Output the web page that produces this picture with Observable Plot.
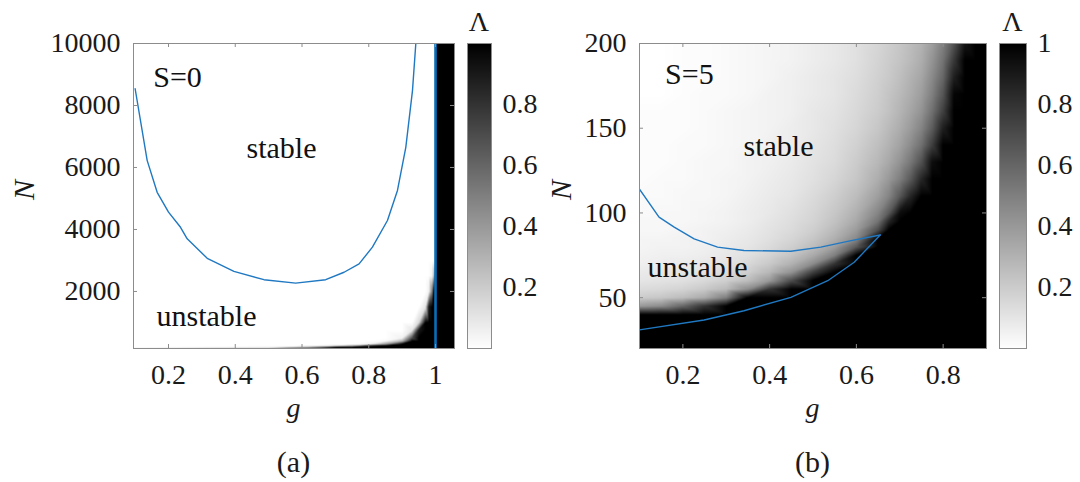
<!DOCTYPE html>
<html><head><meta charset="utf-8">
<script src="https://cdn.jsdelivr.net/npm/d3@7"></script>
<script src="https://cdn.jsdelivr.net/npm/@observablehq/plot@0.6"></script>
<style>
html,body{margin:0;padding:0;background:#fff;}
#root{position:relative;width:1080px;height:482px;overflow:hidden;background:#fff;}
#root > svg{position:absolute;}
#root svg, #root svg text{font-family:"Liberation Serif","Times New Roman",Times,Tinos,"Noto Serif","DejaVu Serif",FreeSerif,serif !important;}
</style></head><body><div id="root"></div>
<script>
// ---------- Panel (a): S=0 ----------
const xTicksA = [0.2, 0.4, 0.6, 0.8, 1];
const yTicksA = [2000, 4000, 6000, 8000, 10000];
const gA = [0.095, 0.5, 0.6, 0.7, 0.75, 0.8, 0.85, 0.9, 0.93, 0.95, 0.97, 0.98, 0.99, 0.995, 0.9995, 1.0005, 1.06];
const NA = [10000, 3000, 2500, 2000, 1500, 1000, 750, 500, 400, 300, 250, 200, 160];
const lambdaA = [
  [0,0,0,0,0,0,0,0,0,0,0,0,0,0,0,1,1],
  [0,0,0,0,0,0,0,0,0,0,0,0,0,0,0.02,1,1],
  [0,0,0,0,0,0,0,0,0,0,0,0,0.05,0.3,0.6,1,1],
  [0,0,0,0,0,0,0,0,0,0,0,0.05,0.5,1,1,1,1],
  [0,0,0,0,0,0,0,0,0,0,0.1,0.9,1,1,1,1,1],
  [0,0,0,0,0,0,0,0,0,0.15,1,1,1,1,1,1,1],
  [0,0,0,0,0,0,0,0,0.1,0.9,1,1,1,1,1,1,1],
  [0,0,0,0,0,0,0,0.05,0.7,1,1,1,1,1,1,1,1],
  [0,0,0,0,0,0,0.02,0.3,1,1,1,1,1,1,1,1,1],
  [0,0,0,0,0,0.05,0.4,1,1,1,1,1,1,1,1,1,1],
  [0,0,0,0.1,0.3,0.8,1,1,1,1,1,1,1,1,1,1,1],
  [0,0.05,0.3,1,1,1,1,1,1,1,1,1,1,1,1,1,1],
  [0.05,0.25,0.8,1,1,1,1,1,1,1,1,1,1,1,1,1,1]
];
const curveAg = [0.1,0.136,0.166,0.2,0.236,0.256,0.316,0.396,0.486,0.581,0.671,0.726,0.771,0.811,0.856,0.886,0.911,0.931,0.941];
const curveAN = [8540,6230,5200,4560,4070,3700,3070,2650,2380,2270,2380,2620,2890,3430,4290,5260,6650,8480,10000];
const boundaryA = [1];

// ---------- Panel (b): S=5 ----------
const xTicksB = [0.2, 0.4, 0.6, 0.8];
const yTicksB = [50, 100, 150, 200];
const gB = [0.1,0.15,0.2,0.25,0.3,0.35,0.4,0.45,0.5,0.55,0.6,0.65,0.675,0.7,0.725,0.75,0.775,0.8,0.825,0.85,0.875,0.9];
const NB = [200,190,180,170,160,150,140,130,120,110,100,95,90,85,80,75,70,65,60,55,50,45,40,35,30,25,20];
const lambdaB = [
  [0,0,.01,.01,.02,.03,.04,.05,.07,.09,.12,.16,.19,.22,.26,.3,.38,.5,.68,.92,1,1],
  [0,0,.01,.01,.02,.03,.04,.05,.07,.09,.12,.17,.2,.23,.27,.32,.42,.55,.78,1,1,1],
  [0,0,.01,.01,.02,.03,.04,.06,.08,.1,.13,.18,.21,.25,.3,.35,.46,.6,.88,1,1,1],
  [0,0,.01,.02,.02,.03,.05,.06,.08,.1,.14,.19,.23,.27,.32,.38,.5,.67,.98,1,1,1],
  [.01,.01,.01,.02,.03,.04,.05,.06,.09,.11,.15,.2,.24,.29,.35,.42,.56,.75,1,1,1,1],
  [.01,.01,.01,.02,.03,.04,.05,.07,.09,.12,.16,.22,.27,.32,.39,.48,.64,.88,1,1,1,1],
  [.01,.01,.02,.02,.03,.04,.06,.07,.1,.13,.18,.25,.3,.36,.45,.56,.76,1,1,1,1,1],
  [.01,.01,.02,.03,.03,.05,.06,.08,.11,.14,.2,.28,.34,.42,.53,.68,.95,1,1,1,1,1],
  [.01,.02,.02,.03,.04,.05,.07,.09,.12,.16,.22,.32,.4,.5,.65,.85,1,1,1,1,1,1],
  [.02,.02,.03,.03,.04,.06,.08,.1,.14,.19,.26,.38,.48,.65,.85,1,1,1,1,1,1,1],
  [.02,.03,.03,.04,.05,.07,.09,.12,.16,.22,.31,.48,.65,.95,1,1,1,1,1,1,1,1],
  [.03,.03,.03,.04,.05,.07,.1,.13,.17,.24,.34,.55,.85,1,1,1,1,1,1,1,1,1],
  [.03,.03,.04,.05,.06,.08,.11,.14,.19,.27,.39,.7,1,1,1,1,1,1,1,1,1,1],
  [.04,.04,.05,.05,.07,.09,.12,.16,.22,.31,.46,1,1,1,1,1,1,1,1,1,1,1],
  [.04,.05,.05,.06,.08,.1,.14,.19,.26,.38,.65,1,1,1,1,1,1,1,1,1,1,1],
  [.05,.06,.06,.07,.09,.12,.17,.23,.33,.5,1,1,1,1,1,1,1,1,1,1,1,1],
  [.06,.07,.08,.09,.11,.15,.21,.3,.45,.8,1,1,1,1,1,1,1,1,1,1,1,1],
  [.08,.09,.1,.11,.14,.19,.28,.42,.75,1,1,1,1,1,1,1,1,1,1,1,1,1],
  [.1,.11,.12,.15,.19,.26,.4,.7,1,1,1,1,1,1,1,1,1,1,1,1,1,1],
  [.14,.15,.17,.21,.27,.45,.8,1,1,1,1,1,1,1,1,1,1,1,1,1,1,1],
  [.2,.22,.26,.33,.5,1,1,1,1,1,1,1,1,1,1,1,1,1,1,1,1,1],
  [.4,.45,.6,.8,1,1,1,1,1,1,1,1,1,1,1,1,1,1,1,1,1,1],
  [1,1,1,1,1,1,1,1,1,1,1,1,1,1,1,1,1,1,1,1,1,1],
  [1,1,1,1,1,1,1,1,1,1,1,1,1,1,1,1,1,1,1,1,1,1],
  [1,1,1,1,1,1,1,1,1,1,1,1,1,1,1,1,1,1,1,1,1,1],
  [1,1,1,1,1,1,1,1,1,1,1,1,1,1,1,1,1,1,1,1,1,1],
  [1,1,1,1,1,1,1,1,1,1,1,1,1,1,1,1,1,1,1,1,1,1]
];
const upperBg = [0.1,0.145,0.18,0.226,0.28,0.341,0.449,0.518,0.588,0.655];
const upperBN = [114,97.5,91.6,84.7,79.8,77.8,77.4,79.8,83.7,87];
const lowerBg = [0.1,0.249,0.341,0.449,0.534,0.595,0.655];
const lowerBN = [31,36.8,42.3,50.2,60,70.9,87];

// ---------- Colorbars ----------
const cbTicksA = [0.2, 0.4, 0.6, 0.8];
const cbTicksB = [0.2, 0.4, 0.6, 0.8, 1];

// ---------- helpers ----------
const FONT = '"Liberation Serif","Times New Roman",Times,Tinos,"Noto Serif","DejaVu Serif",FreeSerif,serif';
const BLUE = "#1f78c1";
const FRAME = "#8c8c8c";
const colorOpt = {type: "linear", domain: [0, 1], range: ["#ffffff", "#000000"]};
const toField = (gs, ns, vals) => ns.flatMap((n, i) => gs.map((g, j) => ({g, N: n, v: vals[i][j]})));
const toLine = (gs, ns) => gs.map((g, i) => ({g, N: ns[i]}));
const fmt = d => String(d);

function panel({left, width, ml, mr, xDom, yDom, xTicks, yTicks, field, lines, rules, texts}) {
  const H = 400, mt = 43, mb = 52;
  const fw = width - ml - mr, fh = H - mt - mb, tl = 4;
  const svg = Plot.plot({
    width, height: H, marginLeft: ml, marginRight: mr, marginTop: mt, marginBottom: mb,
    style: {fontFamily: FONT, fontSize: "28px", color: "#1a1a1a", background: "transparent", overflow: "visible"},
    x: {domain: xDom}, y: {domain: yDom}, color: colorOpt,
    marks: [
      Plot.raster(field, {x: "g", y: "N", fill: "v", interpolate: "barycentric"}),
      ...rules.map(r => Plot.ruleX(r, {x: d => d, stroke: "#0b6db7", strokeWidth: 2.6})),
      ...lines.map(l => Plot.line(l, {x: "g", y: "N", stroke: BLUE, strokeWidth: 1.4, clip: true})),
      ...texts.map(t => Plot.text([t.s], {x: t.x, y: t.y, text: d => d, fontSize: 30, fill: "#111", fontFamily: FONT})),
      Plot.frame({stroke: FRAME}),
      Plot.tickX(xTicks, {x: d => d, stroke: FRAME, insetTop: fh - tl}),
      Plot.tickX(xTicks, {x: d => d, stroke: FRAME, insetBottom: fh - tl}),
      Plot.tickY(yTicks, {y: d => d, stroke: FRAME, insetRight: fw - tl}),
      Plot.tickY(yTicks, {y: d => d, stroke: FRAME, insetLeft: fw - tl}),
      Plot.axisX({ticks: xTicks, tickSize: 0, tickPadding: 16, tickFormat: fmt, label: null, fontFamily: FONT}),
      Plot.axisY({ticks: yTicks, tickSize: 0, tickPadding: 13, tickFormat: fmt, label: null, fontFamily: FONT})
    ]
  });
  svg.style.left = left + "px"; svg.style.top = "0px";
  return svg;
}

function colorbar({left, width, ml, mr, ticks}) {
  const svg = Plot.plot({
    width, height: 400, marginLeft: ml, marginRight: mr, marginTop: 43, marginBottom: 52,
    style: {fontFamily: FONT, fontSize: "28px", color: "#1a1a1a", background: "transparent", overflow: "visible"},
    x: {domain: [0, 1], axis: null}, y: {domain: [0, 1]}, color: colorOpt,
    marks: [
      Plot.raster({fill: (x, y) => y, x1: 0, x2: 1, y1: 0, y2: 1}),
      Plot.frame({stroke: FRAME}),
      Plot.axisY({anchor: "right", ticks, tickSize: 0, tickPadding: 11, tickFormat: fmt, label: null, fontFamily: FONT})
    ]
  });
  svg.style.left = left + "px"; svg.style.top = "0px";
  return svg;
}

const root = document.getElementById("root");

root.appendChild(panel({
  left: 0, width: 470, ml: 133, mr: 16,
  xDom: [0.0951, 1.0569], yDom: [160, 10000],
  xTicks: xTicksA, yTicks: yTicksA,
  field: toField(gA, NA, lambdaA),
  lines: [toLine(curveAg, curveAN)],
  rules: [boundaryA],
  texts: [{s: "S=0", x: 0.227, y: 8903}, {s: "stable", x: 0.5386, y: 6613}, {s: "unstable", x: 0.3139, y: 1193}]
}));
root.appendChild(colorbar({left: 450, width: 90, ml: 17, mr: 49, ticks: cbTicksA}));

root.appendChild(panel({
  left: 500, width: 500, ml: 139, mr: 14,
  xDom: [0.1, 0.9], yDom: [20, 200],
  xTicks: xTicksB, yTicks: yTicksB,
  field: toField(gB, NB, lambdaB),
  lines: [toLine(upperBg, upperBN), toLine(lowerBg, lowerBN)],
  rules: [],
  texts: [{s: "S=5", x: 0.215, y: 181.7}, {s: "stable", x: 0.4205, y: 139.2}, {s: "unstable", x: 0.2337, y: 67.8}]
}));
root.appendChild(colorbar({left: 982, width: 98, ml: 17, mr: 54, ticks: cbTicksB}));

// ---------- outer labels ----------
const ov = d3.create("svg").attr("width", 1080).attr("height", 482)
  .style("position", "absolute").style("left", "0px").style("top", "0px")
  .attr("font-family", FONT).style("fill", "#1a1a1a");
const lab = [
  {t: "g", x: 293.5, y: 417, it: true, s: 28},
  {t: "g", x: 812.5, y: 417, it: true, s: 28},
  {t: "(a)", x: 293.5, y: 472, it: false, s: 30},
  {t: "(b)", x: 812.5, y: 472, it: false, s: 30},
  {t: "Λ", x: 479, y: 31, it: false, s: 28},
  {t: "Λ", x: 1012.5, y: 31, it: false, s: 28}
];
lab.forEach(d => ov.append("text").attr("x", d.x).attr("y", d.y).attr("text-anchor", "middle")
  .attr("font-size", d.s).attr("font-style", d.it ? "italic" : "normal").text(d.t));
[[23, 190], [560, 190]].forEach(([x, y]) => ov.append("text")
  .attr("transform", `translate(${x},${y}) rotate(-90)`).attr("text-anchor", "middle")
  .attr("dominant-baseline", "central").attr("font-size", 30).attr("font-style", "italic").text("N"));
root.appendChild(ov.node());
</script>
</body></html>
